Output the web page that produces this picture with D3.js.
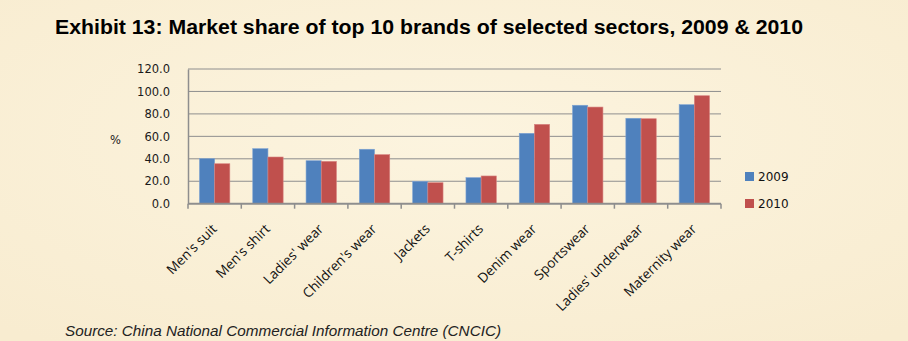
<!DOCTYPE html>
<html><head><meta charset="utf-8">
<script src="https://cdn.jsdelivr.net/npm/d3@7"></script>
<style>body{margin:0;background:#fcf2dc;} svg{display:block;}</style>
</head><body>
<svg id="chart" width="908" height="341"></svg>
<script>
const categories = ["Men's suit","Men's shirt","Ladies' wear","Children's wear","Jackets","T-shirts","Denim wear","Sportswear","Ladies' underwear","Maternity wear"];
const series = ["2009","2010"];
const values2009 = [40.1,49.0,38.3,48.5,19.9,23.2,62.7,87.7,76.1,88.2];
const values2010 = [35.6,41.6,37.7,43.7,18.7,24.7,70.7,86.1,75.7,96.2];
const yTicks = [0,20,40,60,80,100,120];
const colors = ["#4f81bd","#c0504d"];

(function(){
const svg = d3.select("#chart");
const defs = svg.append("defs");
const grad = defs.append("radialGradient").attr("id","bg").attr("cx","50%").attr("cy","40%").attr("r","75%");
grad.append("stop").attr("offset","0%").attr("stop-color","#fcf4df");
grad.append("stop").attr("offset","100%").attr("stop-color","#f8ecd0");
svg.append("rect").attr("width",908).attr("height",341).attr("fill","url(#bg)");

const pLeft=188, pRight=721, pTop=69, pBottom=203.7;
const x = d3.scaleBand().domain(categories).range([pLeft,pRight]).paddingInner(0.43).paddingOuter(0.215);
const xs = d3.scaleBand().domain(series).range([0,x.bandwidth()]);
const y = d3.scaleLinear().domain([0,120]).range([pBottom,pTop]);

// gridlines
svg.append("g").selectAll("line").data(yTicks.filter(d=>d>0)).join("line")
  .attr("x1",pLeft).attr("x2",pRight).attr("y1",d=>y(d)).attr("y2",d=>y(d))
  .attr("stroke","#8e8e8e").attr("stroke-width",1);

// y axis
const yAxis = d3.axisLeft(y).tickValues(yTicks).tickFormat(d3.format(".1f")).tickSize(0).tickPadding(18);
const gy = svg.append("g").attr("transform",`translate(${pLeft},0)`).call(yAxis);
gy.select(".domain").attr("stroke","#8e8e8e").attr("stroke-width",1.5);
gy.selectAll("text").attr("font-family","DejaVu Sans").attr("font-size",11.5).attr("fill","#1a1a1a");

svg.append("text").attr("x",110).attr("y",144).attr("font-family","DejaVu Sans").attr("font-size",11.5).attr("fill","#1a1a1a").text("%");

// bars
const data = categories.map((c,i)=>({c, vals:[values2009[i],values2010[i]]}));
const gBars = svg.append("g");
data.forEach(d=>{
  d.vals.forEach((v,j)=>{
    gBars.append("rect")
      .attr("x",x(d.c)+xs(series[j]))
      .attr("y",y(v))
      .attr("width",xs.bandwidth())
      .attr("height",pBottom-y(v))
      .attr("fill",colors[j])
      .attr("stroke",j===0?"#7ea3d3":"#d88380").attr("stroke-width",0.6);
  });
});

// x axis
const step = x.step();
const boundaries = d3.range(categories.length+1).map(i=>pLeft+i*step);
const gx = svg.append("g");
gx.append("line").attr("x1",pLeft).attr("x2",pRight).attr("y1",pBottom).attr("y2",pBottom).attr("stroke","#8e8e8e").attr("stroke-width",2);
gx.selectAll("line.tick").data(boundaries).join("line").attr("class","tick")
  .attr("x1",d=>d).attr("x2",d=>d).attr("y1",pBottom).attr("y2",pBottom+5)
  .attr("stroke","#8e8e8e").attr("stroke-width",1.5);
gx.selectAll("text").data(categories).join("text")
  .attr("transform",d=>`translate(${x(d)+x.bandwidth()/2+3},${pBottom+26}) rotate(-45)`)
  .attr("text-anchor","end").attr("font-family","Open Sans").attr("font-size",13.6).attr("fill","#111")
  .text(d=>d);

// legend
const leg = svg.append("g");
series.forEach((s,i)=>{
  leg.append("rect").attr("x",745).attr("y",172+i*27).attr("width",9).attr("height",9).attr("fill",colors[i]);
  leg.append("text").attr("x",758).attr("y",181+i*27).attr("font-family","DejaVu Sans").attr("font-size",12).attr("fill","#111").text(s);
});

// title
svg.append("text").attr("x",55).attr("y",34).attr("font-family","Liberation Sans").attr("font-weight","bold").attr("font-size",19.5).attr("fill","#000")
  .attr("textLength",748).attr("lengthAdjust","spacingAndGlyphs")
  .text("Exhibit 13: Market share of top 10 brands of selected sectors, 2009 & 2010");
// source
svg.append("text").attr("x",65).attr("y",336).attr("font-family","Liberation Sans").attr("font-style","italic").attr("font-size",14).attr("fill","#222")
  .attr("textLength",436).attr("lengthAdjust","spacingAndGlyphs")
  .text("Source:  China National Commercial Information Centre (CNCIC)");
})();
</script>
</body></html>
